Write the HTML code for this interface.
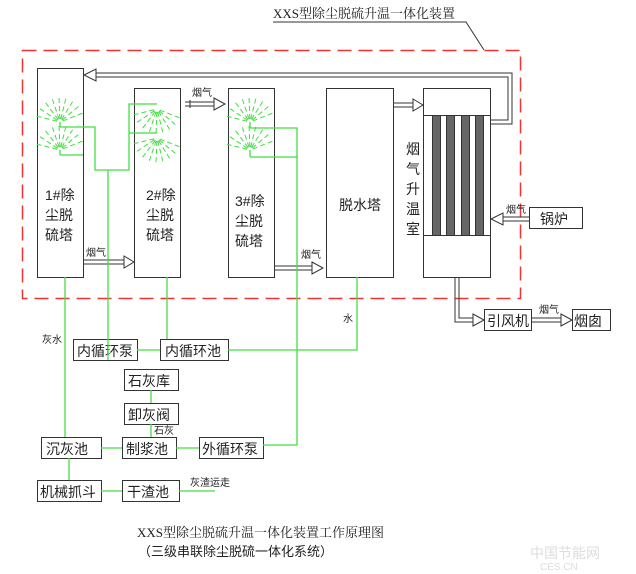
<!DOCTYPE html>
<html><head><meta charset="utf-8"><style>
html,body{margin:0;padding:0;background:#fff;}
svg{display:block;}
text{font-family:"Liberation Sans","Noto Sans CJK SC",sans-serif;fill:#222;}
.serif{font-family:"Liberation Serif","Noto Serif CJK SC",serif;}
</style></head><body>
<svg width="636" height="574" viewBox="0 0 636 574" xmlns="http://www.w3.org/2000/svg">
<defs>
<g id="fanUp" stroke="#44dd44" stroke-width="1" stroke-dasharray="5,3" stroke-dashoffset="-3">
<line x1="0" y1="0" x2="-24" y2="-6"/><line x1="0" y1="0" x2="-21" y2="-14"/><line x1="0" y1="0" x2="-15" y2="-20"/><line x1="0" y1="0" x2="-8" y2="-24"/><line x1="0" y1="0" x2="-1" y2="-25"/><line x1="0" y1="0" x2="6" y2="-24"/><line x1="0" y1="0" x2="13" y2="-21"/><line x1="0" y1="0" x2="19" y2="-16"/><line x1="0" y1="0" x2="23" y2="-9"/>
</g>
<g id="fanDn" stroke="#44dd44" stroke-width="1" stroke-dasharray="5,3" stroke-dashoffset="-3">
<line x1="0" y1="0" x2="-24" y2="6"/><line x1="0" y1="0" x2="-21" y2="14"/><line x1="0" y1="0" x2="-15" y2="20"/><line x1="0" y1="0" x2="-8" y2="24"/><line x1="0" y1="0" x2="-1" y2="25"/><line x1="0" y1="0" x2="6" y2="24"/><line x1="0" y1="0" x2="13" y2="21"/><line x1="0" y1="0" x2="19" y2="16"/><line x1="0" y1="0" x2="23" y2="9"/>
</g>
</defs>

<text x="273" y="18" font-size="13" class="serif">XXS型除尘脱硫升温一体化装置</text>
<polyline points="273,22 466,22 484,50" fill="none" stroke="#333" stroke-width="1"/>

<rect x="22.5" y="50.5" width="498" height="248" fill="none" stroke="#e33" stroke-width="1.5" stroke-dasharray="14,7"/>

<g fill="#fff" stroke="#333" stroke-width="1">
<rect x="37.5" y="68.5" width="46" height="209"/>
<rect x="134.5" y="88.5" width="46" height="189"/>
<rect x="228.5" y="88.5" width="46" height="189"/>
<rect x="326.5" y="88.5" width="67" height="189"/>
<rect x="423.5" y="88.5" width="67" height="189"/>
<line x1="423" y1="115.5" x2="491" y2="115.5"/>
<line x1="423" y1="235.5" x2="491" y2="235.5"/>
</g>
<g fill="#666" stroke="#333">
<rect x="432.5" y="115.5" width="8" height="120"/>
<rect x="446.5" y="115.5" width="8" height="120"/>
<rect x="461.5" y="115.5" width="8" height="120"/>
<rect x="475.5" y="115.5" width="8" height="120"/>
</g>

<g font-size="14">
<text x="45" y="200">1#除</text><text x="45" y="220">尘脱</text><text x="45" y="240">硫塔</text>
<text x="146" y="200">2#除</text><text x="146" y="220">尘脱</text><text x="146" y="240">硫塔</text>
<text x="235" y="206">3#除</text><text x="235" y="226">尘脱</text><text x="235" y="246">硫塔</text>
<text x="339" y="210">脱水塔</text>
<text x="406" y="154">烟</text><text x="406" y="174">气</text><text x="406" y="194">升</text><text x="406" y="214">温</text><text x="406" y="234">室</text>
</g>

<g fill="none" stroke="#333" stroke-width="1">
<polyline points="491,120 508,120 508,77 96,77"/>
<polyline points="491,124 512,124 512,73 96,73"/>
<line x1="83" y1="260" x2="124" y2="260"/><line x1="83" y1="264" x2="124" y2="264"/>
<line x1="185" y1="102" x2="214" y2="102"/><line x1="185" y1="106" x2="214" y2="106"/><line x1="190" y1="100" x2="190" y2="108"/>
<line x1="275" y1="266" x2="312" y2="266"/><line x1="275" y1="270" x2="312" y2="270"/>
<line x1="393" y1="103" x2="413" y2="103"/><line x1="393" y1="107" x2="413" y2="107"/>
<line x1="503" y1="217" x2="529" y2="217"/><line x1="503" y1="221" x2="529" y2="221"/>
<polyline points="455,277 455,322 473,322"/><polyline points="459,277 459,318 473,318"/>
<line x1="531" y1="318" x2="561" y2="318"/><line x1="531" y1="322" x2="561" y2="322"/>
</g>
<g fill="#fff" stroke="#333" stroke-width="1">
<polygon points="84,75 96,69 96,81"/>
<polygon points="124,256 134,262 124,268"/>
<polygon points="214,98 225,104 214,110"/>
<polygon points="312,262 323,268 312,274"/>
<polygon points="413,99 423,105 413,111"/>
<polygon points="491,219 503,213 503,225"/>
<polygon points="473,314 484,320 473,326"/>
<polygon points="561,314 572,320 561,326"/>
</g>
<g font-size="10">
<text x="86" y="256">烟气</text>
<text x="192" y="96">烟气</text>
<text x="301" y="258">烟气</text>
<text x="506" y="213">烟气</text>
<text x="539" y="313">烟气</text>
</g>

<g fill="#fff" stroke="#333" stroke-width="1">
<rect x="529.5" y="207.5" width="53" height="21"/>
<rect x="484.5" y="309.5" width="47" height="21"/>
<rect x="572.5" y="309.5" width="38" height="21"/>
<rect x="73.5" y="339.5" width="64" height="21"/>
<rect x="160.5" y="339.5" width="68" height="21"/>
<rect x="124.5" y="369.5" width="54" height="21"/>
<rect x="124.5" y="403.5" width="54" height="21"/>
<rect x="41.5" y="437.5" width="60" height="21"/>
<rect x="122.5" y="437.5" width="54" height="21"/>
<rect x="199.5" y="437.5" width="64" height="21"/>
<rect x="37.5" y="480.5" width="64" height="21"/>
<rect x="122.5" y="480.5" width="57" height="21"/>
</g>
<g font-size="14">
<text x="540" y="224">锅炉</text>
<text x="487" y="326">引风机</text>
<text x="574" y="326">烟囱</text>
<text x="77" y="356">内循环泵</text>
<text x="165" y="356">内循环池</text>
<text x="128" y="386">石灰库</text>
<text x="128" y="420">卸灰阀</text>
<text x="46" y="454">沉灰池</text>
<text x="126" y="454">制浆池</text>
<text x="202" y="454">外循环泵</text>
<text x="40" y="497">机械抓斗</text>
<text x="127" y="497">干渣池</text>
</g>

<g fill="none" stroke="#44dd44" stroke-width="1.3">
<polyline points="60,127 95,127 95,170 129,170 129,104 157,104"/>
<line x1="129" y1="133" x2="157" y2="133"/>
<line x1="60" y1="155" x2="83" y2="155"/>
<line x1="60" y1="150" x2="60" y2="155"/>
<line x1="60" y1="122" x2="60" y2="127"/>
<line x1="108" y1="170" x2="108" y2="360"/>
<polyline points="250,128 297,128 297,445 263,445"/>
<line x1="250" y1="157" x2="297" y2="157"/>
<line x1="250" y1="150" x2="250" y2="157"/>
<line x1="250" y1="122" x2="250" y2="128"/>
<line x1="65" y1="277" x2="65" y2="437"/>
<line x1="167" y1="277" x2="167" y2="339"/>
<polyline points="357,277 357,350 228,350"/>
<line x1="160" y1="350" x2="137" y2="350"/>
<line x1="151" y1="390" x2="151" y2="403"/>
<line x1="151" y1="424" x2="151" y2="437"/>
<line x1="101" y1="448" x2="122" y2="448"/>
<line x1="176" y1="448" x2="199" y2="448"/>
<line x1="69" y1="458" x2="69" y2="480"/>
<line x1="101" y1="491" x2="122" y2="491"/>
<line x1="179" y1="491" x2="215" y2="491"/>
</g>
<use href="#fanUp" x="60" y="122"/>
<use href="#fanUp" x="60" y="150"/>
<use href="#fanDn" x="157" y="109"/>
<use href="#fanDn" x="157" y="138"/>
<use href="#fanUp" x="250" y="122"/>
<use href="#fanUp" x="250" y="150"/>

<g font-size="10">
<text x="42" y="343">灰水</text>
<text x="343" y="322">水</text>
<text x="154" y="434">石灰</text>
<text x="190" y="486">灰渣运走</text>
</g>

<text x="137" y="537" font-size="13" class="serif">XXS型除尘脱硫升温一体化装置工作原理图</text>
<text x="138" y="556" font-size="13">（三级串联除尘脱硫一体化系统）</text>
<text x="530" y="558" font-size="14" style="fill:#ddd">中国节能网</text>
<text x="540" y="570" font-size="10" style="fill:#ddd">CES.CN</text>
</svg>
</body></html>
